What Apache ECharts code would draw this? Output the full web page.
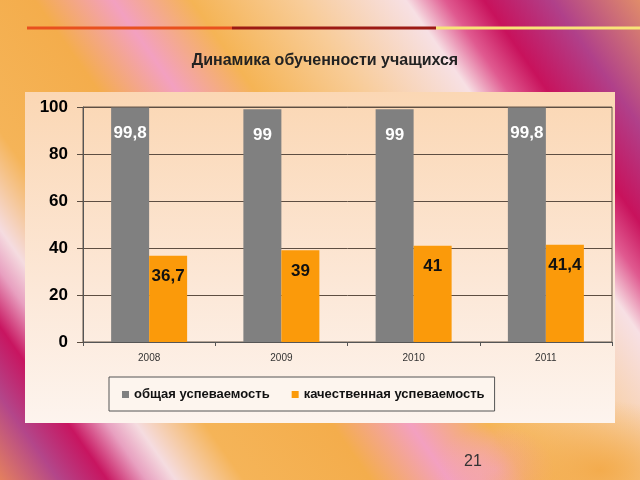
<!DOCTYPE html>
<html>
<head>
<meta charset="utf-8">
<script src="https://cdn.jsdelivr.net/npm/echarts@6/dist/echarts.min.js"></script>
<style>
html,body{margin:0;padding:0;width:640px;height:480px;overflow:hidden;}
body{background:
 radial-gradient(ellipse 120px 70px at 600px 470px, rgba(243,170,74,0.95) 0%, rgba(243,170,74,0) 100%),
 radial-gradient(ellipse 60px 45px at 495px 470px, rgba(244,164,190,0.8) 0%, rgba(244,164,190,0) 100%),
 linear-gradient(55deg,
 #e4805e 0%, #b3468a 6%, #c81560 11%, #e8a0c0 15%, #f5dce0 18%, #f5b458 25%,
 #f4ad4c 38%, #f3a0c0 46%, #f5b455 54%, #f8cc98 65%, #f7e0e4 76%, #e05a90 80%,
 #c8125c 84%, #b0408a 91%, #e08c6a 100%);}
#c{width:640px;height:480px;}
</style>
</head>
<body>
<div id="c"></div>
<script>
var titleText = 'Динамика обученности учащихся';
var categories = ['2008', '2009', '2010', '2011'];
var seriesNames = ['общая успеваемость', 'качественная успеваемость'];
var totalValues = [99.8, 99, 99, 99.8];
var qualityValues = [36.7, 39, 41, 41.4];
var yTicks = [0, 20, 40, 60, 80, 100];
var pageNumber = '21';

var FONT = '"Liberation Sans", Arial, sans-serif';
function fmt(v){ return String(v).replace('.', ','); }

var chart = echarts.init(document.getElementById('c'), null, {renderer: 'canvas'});
chart.setOption({
  backgroundColor: 'transparent',
  animation: false,
  title: {
    text: titleText,
    left: 320, top: 48, textAlign: 'center',
    textStyle: {fontFamily: FONT, fontSize: 16, fontWeight: 'bold', color: '#222'}
  },
  graphic: [
    {type: 'rect', z: -100, silent: true,
     shape: {x: 25, y: 92, width: 590, height: 331},
     style: {fill: new echarts.graphic.LinearGradient(0, 0, 0, 1, [
       {offset: 0, color: '#fbd7b4'}, {offset: 0.6, color: '#fce8d8'}, {offset: 1, color: '#fdf4ee'}])}},
    {type: 'line', silent: true, shape: {x1: 27, y1: 28, x2: 232, y2: 28}, style: {stroke: '#e8501e', lineWidth: 3}},
    {type: 'line', silent: true, shape: {x1: 232, y1: 28, x2: 436, y2: 28}, style: {stroke: '#9c1a14', lineWidth: 3}},
    {type: 'line', silent: true, shape: {x1: 436, y1: 28, x2: 640, y2: 28}, style: {stroke: '#f8e478', lineWidth: 3}},
    {type: 'text', silent: true, left: 464, top: 454,
     style: {text: pageNumber, font: '16px ' + FONT, fill: '#333'}}
  ],
  legend: {
    data: seriesNames,
    left: 109, top: 377,
    orient: 'horizontal',
    icon: 'rect', itemWidth: 7, itemHeight: 7, itemGap: 22,
    padding: [11, 10, 10, 13],
    backgroundColor: '#fdf5ee',
    borderColor: '#555', borderWidth: 1,
    textStyle: {fontFamily: FONT, fontSize: 13, fontWeight: 'bold', color: '#111'}
  },
  grid: {left: 83, top: 107, right: 28, bottom: 138, show: true,
         borderColor: '#6a5a4c', borderWidth: 1, backgroundColor: 'transparent'},
  xAxis: {
    type: 'category', data: categories,
    axisLine: {lineStyle: {color: '#555', width: 1}},
    axisTick: {show: true, length: 4, alignWithLabel: false, lineStyle: {color: '#555'}},
    axisLabel: {fontFamily: FONT, fontSize: 10, color: '#333', margin: 11}
  },
  yAxis: {
    type: 'value', min: yTicks[0], max: yTicks[yTicks.length - 1], interval: yTicks[1] - yTicks[0],
    axisLine: {show: true, lineStyle: {color: '#555'}},
    axisTick: {show: true, length: 6, lineStyle: {color: '#5a4c40'}},
    splitLine: {show: true, lineStyle: {color: '#5e4e42', width: 1}},
    axisLabel: {fontFamily: FONT, fontSize: 17, fontWeight: 'bold', color: '#000', margin: 15}
  },
  series: [
    {name: seriesNames[0], type: 'bar', data: totalValues, barWidth: 38, barGap: '0%',
     itemStyle: {color: '#808080'},
     label: {show: true, position: 'insideTop', distance: 17,
       formatter: function(p){ return fmt(p.value); },
       fontFamily: FONT, fontSize: 17, fontWeight: 'bold', color: '#fff'}},
    {name: seriesNames[1], type: 'bar', data: qualityValues, barWidth: 38, barGap: '0%',
     itemStyle: {color: '#fb9a0a'},
     label: {show: true, position: 'insideTop', distance: 12,
       formatter: function(p){ return fmt(p.value); },
       fontFamily: FONT, fontSize: 17, fontWeight: 'bold', color: '#111'}}
  ]
});
</script>
</body>
</html>
